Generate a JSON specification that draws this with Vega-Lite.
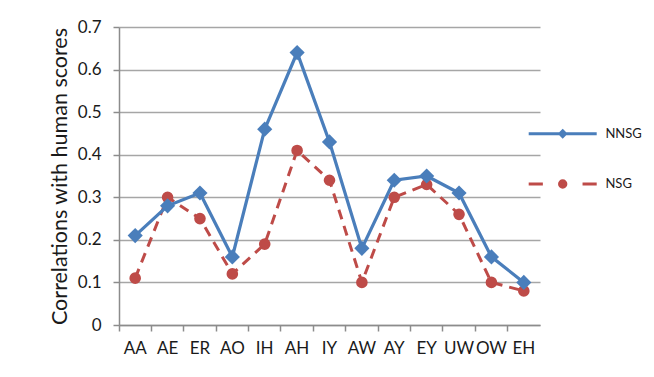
{
  "$schema": "https://vega.github.io/schema/vega-lite/v6.json",
  "autosize": "none",
  "width": 421,
  "height": 298,
  "padding": {"left": 119, "top": 27, "right": 114, "bottom": 52},
  "background": "white",
  "config": {
    "view": {"stroke": null},
    "font": "Lato",
    "axis": {"labelFont": "Lato", "titleFont": "Lato"}
  },
  "data": {
    "values": [
      {"phoneme": "AA", "series": "NNSG", "value": 0.21},
      {"phoneme": "AE", "series": "NNSG", "value": 0.28},
      {"phoneme": "ER", "series": "NNSG", "value": 0.31},
      {"phoneme": "AO", "series": "NNSG", "value": 0.16},
      {"phoneme": "IH", "series": "NNSG", "value": 0.46},
      {"phoneme": "AH", "series": "NNSG", "value": 0.64},
      {"phoneme": "IY", "series": "NNSG", "value": 0.43},
      {"phoneme": "AW", "series": "NNSG", "value": 0.18},
      {"phoneme": "AY", "series": "NNSG", "value": 0.34},
      {"phoneme": "EY", "series": "NNSG", "value": 0.35},
      {"phoneme": "UW", "series": "NNSG", "value": 0.31},
      {"phoneme": "OW", "series": "NNSG", "value": 0.16},
      {"phoneme": "EH", "series": "NNSG", "value": 0.10},
      {"phoneme": "AA", "series": "NSG", "value": 0.11},
      {"phoneme": "AE", "series": "NSG", "value": 0.30},
      {"phoneme": "ER", "series": "NSG", "value": 0.25},
      {"phoneme": "AO", "series": "NSG", "value": 0.12},
      {"phoneme": "IH", "series": "NSG", "value": 0.19},
      {"phoneme": "AH", "series": "NSG", "value": 0.41},
      {"phoneme": "IY", "series": "NSG", "value": 0.34},
      {"phoneme": "AW", "series": "NSG", "value": 0.10},
      {"phoneme": "AY", "series": "NSG", "value": 0.30},
      {"phoneme": "EY", "series": "NSG", "value": 0.33},
      {"phoneme": "UW", "series": "NSG", "value": 0.26},
      {"phoneme": "OW", "series": "NSG", "value": 0.10},
      {"phoneme": "EH", "series": "NSG", "value": 0.08}
    ]
  },
  "encoding": {
    "x": {
      "field": "phoneme",
      "type": "nominal",
      "sort": ["AA","AE","ER","AO","IH","AH","IY","AW","AY","EY","UW","OW","EH"],
      "scale": {"type": "band", "paddingInner": 0, "paddingOuter": 0},
      "axis": {
        "title": null,
        "labelAngle": 0,
        "labelFontSize": 17,
        "labelColor": "#1a1a1a",
        "labelPadding": 9,
        "bandPosition": 0,
        "tickSize": 6,
        "tickColor": "#8c8c8c",
        "domainColor": "#8c8c8c",
        "domainWidth": 1.5,
        "tickWidth": 1.5,
        "grid": false
      }
    },
    "y": {
      "field": "value",
      "type": "quantitative",
      "scale": {"domain": [0, 0.7], "nice": false, "zero": true},
      "axis": {
        "title": "Correlations with human scores",
        "titleFontSize": 21.5,
        "titleFontWeight": "normal",
        "titleColor": "#1a1a1a",
        "titlePadding": 6,
        "values": [0, 0.1, 0.2, 0.3, 0.4, 0.5, 0.6, 0.7],
        "format": ".1~f",
        "labelFontSize": 17,
        "labelColor": "#1a1a1a",
        "labelPadding": 12,
        "tickSize": 6,
        "tickColor": "#8c8c8c",
        "domainColor": "#8c8c8c",
        "domainWidth": 1.5,
        "tickWidth": 1.5,
        "grid": true,
        "gridColor": "#a6a6a6",
        "gridWidth": 1.3
      }
    }
  },
  "layer": [
    {
      "transform": [{"filter": "datum.series === 'NSG'"}],
      "mark": {"type": "line", "color": "#BE4B48", "strokeWidth": 3, "strokeDash": [10, 7]}
    },
    {
      "transform": [{"filter": "datum.series === 'NNSG'"}],
      "mark": {"type": "line", "color": "#4A7EBB", "strokeWidth": 3.25}
    },
    {
      "transform": [{"filter": "datum.series === 'NSG'"}],
      "mark": {"type": "point", "shape": "circle", "filled": true, "opacity": 1, "color": "#BE4B48", "size": 135}
    },
    {
      "transform": [{"filter": "datum.series === 'NNSG'"}],
      "mark": {"type": "point", "shape": "diamond", "filled": true, "opacity": 1, "color": "#4A7EBB", "size": 230}
    },
    {
      "transform": [{"filter": "datum.value < -1"}],
      "mark": {"type": "point", "strokeWidth": 3, "opacity": 1},
      "encoding": {
        "shape": {
          "field": "series",
          "type": "nominal",
          "scale": {
            "domain": ["NNSG", "NSG"],
            "range": [
              "M-3,0H3M0,-0.25L0.25,0L0,0.25L-0.25,0Z",
              "M-3,0H-1.75M1.75,0H3M-0.28,0A0.28,0.28 0 1,0 0.28,0A0.28,0.28 0 1,0 -0.28,0Z"
            ]
          },
          "legend": {
            "title": null,
            "orient": "none",
            "legendX": 430.7,
            "legendY": 93.7,
            "padding": 0,
            "symbolSize": 514,
            "symbolStrokeWidth": 3,
            "rowPadding": 28.3,
            "labelOffset": 29.7,
            "labelFontSize": 13,
            "labelFont": "Lato",
            "labelColor": "#1a1a1a"
          }
        },
        "fill": {
          "field": "series",
          "type": "nominal",
          "scale": {"domain": ["NNSG", "NSG"], "range": ["#4A7EBB", "#BE4B48"]},
          "legend": {
            "title": null,
            "orient": "none",
            "legendX": 430.7,
            "legendY": 93.7,
            "padding": 0,
            "symbolSize": 514,
            "symbolStrokeWidth": 3,
            "rowPadding": 28.3,
            "labelOffset": 29.7,
            "labelFontSize": 13,
            "labelFont": "Lato",
            "labelColor": "#1a1a1a"
          }
        },
        "stroke": {
          "field": "series",
          "type": "nominal",
          "scale": {"domain": ["NNSG", "NSG"], "range": ["#4A7EBB", "#BE4B48"]},
          "legend": {
            "title": null,
            "orient": "none",
            "legendX": 430.7,
            "legendY": 93.7,
            "padding": 0,
            "symbolSize": 514,
            "symbolStrokeWidth": 3,
            "rowPadding": 28.3,
            "labelOffset": 29.7,
            "labelFontSize": 13,
            "labelFont": "Lato",
            "labelColor": "#1a1a1a"
          }
        }
      }
    }
  ]
}
